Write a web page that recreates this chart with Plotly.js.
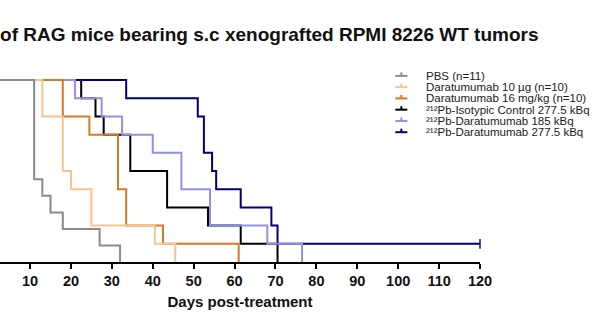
<!DOCTYPE html>
<html>
<head>
<meta charset="utf-8">
<script src="https://cdn.plot.ly/plotly-3.0.1.min.js"></script>
<style>html,body{margin:0;padding:0;background:#fff;}#chart{width:600px;height:330px;}</style>
</head>
<body>
<div id="chart"></div>
<script>
// ---- data ----
const seriesNames = [
  "PBS (n=11)",
  "Daratumumab 10 µg (n=10)",
  "Daratumumab 16 mg/kg (n=10)",
  "²¹²Pb-Isotypic Control 277.5 kBq",
  "²¹²Pb-Daratumumab 185 kBq",
  "²¹²Pb-Daratumumab 277.5 kBq"
];
const pbsDays    = [0, 11, 13, 15, 18, 27, 32];
const pbsSurv    = [100, 45.45, 36.36, 27.27, 18.18, 9.09, 0];
const dara10Days = [0, 13, 18, 20, 25, 40.5, 45.5];
const dara10Surv = [100, 80, 50, 40, 20, 10, 0];
const dara16Days = [0, 18, 24.5, 31.5, 33.5, 42.5, 61];
const dara16Surv = [100, 80, 70, 40, 20, 10, 0];
const isoDays    = [0, 22.5, 26, 28, 34.5, 43.5, 53.5, 61.5, 70.5];
const isoSurv    = [100, 90, 80, 70, 50, 30, 20, 10, 0];
const pb185Days  = [0, 21, 27.5, 32.5, 40, 47, 54, 68, 76.5];
const pb185Surv  = [100, 90, 80, 70, 60, 40, 20, 10, 0];
const pb277Days  = [0, 33.5, 51, 52.5, 54.5, 55.5, 61.5, 69, 70.5, 120];
const pb277Surv  = [100, 90, 80, 60, 50, 40, 30, 20, 10, 10];
const xTickVals  = [10, 20, 30, 40, 50, 60, 70, 80, 90, 100, 110, 120];

const colors = ["#8a8a8a", "#f6c48e", "#d9772b", "#000000", "#9191e2", "#00007a"];
const FONT = "Liberation Sans, Arial, sans-serif";

const series = [
  {x: pbsDays, y: pbsSurv},
  {x: dara10Days, y: dara10Surv},
  {x: dara16Days, y: dara16Surv},
  {x: isoDays, y: isoSurv},
  {x: pb185Days, y: pb185Surv},
  {x: pb277Days, y: pb277Surv}
];

// drawing order bottom -> top: isotypic, 277.5, 185, dara16, dara10, PBS
const drawOrder = [3, 5, 4, 2, 1, 0];
const traces = drawOrder.map(i => {
  const s = series[i];
  const last = s.x.length - 1;
  const censored = s.y[last] > 0;
  const t = {
    type: "scatter",
    mode: censored ? "lines+markers" : "lines",
    x: s.x, y: s.y,
    line: {shape: "hv", color: colors[i], width: 2},
    name: seriesNames[i],
    showlegend: false,
    hoverinfo: "skip",
    cliponaxis: false
  };
  if (censored) {
    t.marker = {symbol: "line-ns", size: s.x.map((_, k) => k === last ? 7 : 0),
                color: colors[i], line: {color: colors[i], width: 2}};
  }
  return t;
});

// ---- custom compact legend (annotations + shapes) ----
const W = 600, H = 330;
const mL = 0, mR = 120.4, mT = 70.9, mB = 67.5;
const plotW = W - mL - mR, plotH = H - mT - mB;
const px2x = p => (p - mL) / plotW;
const py2y = p => (H - mB - p) / plotH;
const legRow0 = 75.8, legStep = 11.3;
const annotations = [], shapes = [];
seriesNames.forEach((nm, i) => {
  const yy = legRow0 + i * legStep;
  shapes.push({type: "line", xref: "paper", yref: "paper",
    x0: px2x(395), x1: px2x(407), y0: py2y(yy), y1: py2y(yy),
    line: {color: colors[i], width: 2}});
  shapes.push({type: "line", xref: "paper", yref: "paper",
    x0: px2x(401), x1: px2x(401), y0: py2y(yy), y1: py2y(yy - 3.5),
    line: {color: colors[i], width: 2}});
  annotations.push({xref: "paper", yref: "paper", x: px2x(424), y: py2y(yy),
    xanchor: "left", yanchor: "middle", showarrow: false, text: nm,
    font: {family: FONT, size: 11.5, color: "#1a1a1a"}});
});

const layout = {
  width: W, height: H,
  margin: {l: mL, r: mR, t: mT, b: mB, pad: 0},
  paper_bgcolor: "#ffffff", plot_bgcolor: "#ffffff",
  showlegend: false,
  title: {
    text: "of RAG mice bearing s.c xenografted RPMI 8226 WT tumors",
    font: {family: FONT, size: 19, color: "#111111", weight: "bold"},
    xref: "container", x: 538.5 / 600, xanchor: "right",
    yref: "container", y: 1 - 34.5 / 330, yanchor: "middle"
  },
  xaxis: {
    range: [2.65, 120], fixedrange: true,
    tickmode: "array", tickvals: xTickVals,
    ticks: "outside", ticklen: 5, tickwidth: 2, tickcolor: "#000",
    showline: true, linewidth: 2, linecolor: "#000",
    showgrid: false, zeroline: false,
    tickfont: {family: FONT, size: 14.5, color: "#111", weight: "bold"},
    title: {text: "Days post-treatment", standoff: 8,
            font: {family: FONT, size: 15, color: "#111", weight: "bold"}}
  },
  yaxis: {range: [0, 105], visible: false, fixedrange: true},
  annotations: annotations,
  shapes: shapes
};

Plotly.newPlot("chart", traces, layout, {displayModeBar: false, staticPlot: true});
</script>
</body>
</html>
